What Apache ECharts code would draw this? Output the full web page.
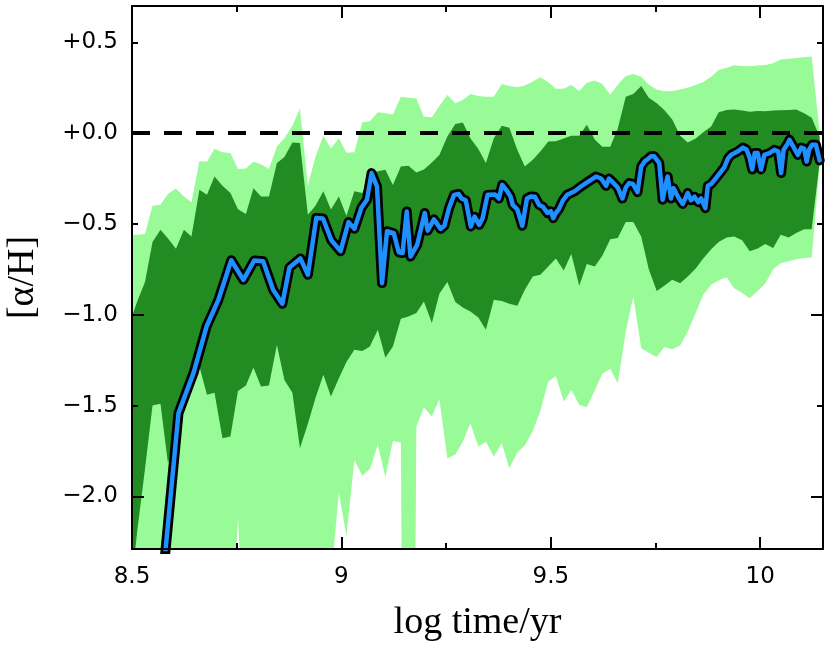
<!DOCTYPE html>
<html>
<head>
<meta charset="utf-8">
<script src="https://cdn.jsdelivr.net/npm/echarts@6/dist/echarts.min.js"></script>
<style>
  html, body { margin: 0; padding: 0; background: #fff; }
  #chart { width: 830px; height: 645px; }
</style>
</head>
<body>
<div id="chart"></div>
<script>
// log time of each band bin
const binTime = [
  8.494, 8.512, 8.531, 8.549, 8.568, 8.586, 8.605, 8.624, 8.642, 8.661,
  8.679, 8.697, 8.716, 8.735, 8.753, 8.772, 8.790, 8.808, 8.827, 8.846,
  8.864, 8.883, 8.901, 8.920, 8.938, 8.957, 8.975, 8.994, 9.012, 9.031,
  9.050, 9.068, 9.087, 9.105, 9.123, 9.142, 9.160, 9.179, 9.197, 9.216,
  9.234, 9.253, 9.272, 9.290, 9.308, 9.327, 9.345, 9.364, 9.383, 9.401,
  9.420, 9.438, 9.457, 9.475, 9.494, 9.512, 9.531, 9.549, 9.568, 9.586,
  9.605, 9.623, 9.642, 9.660, 9.679, 9.697, 9.716, 9.734, 9.753, 9.771,
  9.790, 9.809, 9.827, 9.846, 9.864, 9.883, 9.901, 9.920, 9.938, 9.957,
  9.975, 9.994, 10.012, 10.031, 10.049, 10.068, 10.086, 10.105, 10.123, 10.142
]
// outer band (light green), upper edge
const outerHigh = [
  -0.56, -0.56, -0.555, -0.40, -0.395, -0.334, -0.305, -0.349, -0.38, -0.153,
  -0.158, -0.086, -0.105, -0.11, -0.198, -0.195, -0.158, -0.171, -0.198, -0.074,
  -0.028, 0.04, 0.135, -0.29, -0.13, -0.015, -0.085, -0.028, -0.108, -0.105,
  0.06, 0.065, 0.115, 0.11, 0.103, 0.2, 0.195, 0.19, 0.09, 0.088,
  0.15, 0.21, 0.165, 0.183, 0.216, 0.205, 0.2, 0.2, 0.27, 0.26,
  0.253, 0.262, 0.284, 0.308, 0.28, 0.245, 0.245, 0.265, 0.232, 0.277,
  0.29, 0.27, 0.211, 0.266, 0.314, 0.326, 0.31, 0.266, 0.24, 0.23,
  0.232, 0.24, 0.25, 0.265, 0.282, 0.31, 0.348, 0.36, 0.374, 0.37,
  0.368, 0.372, 0.375, 0.385, 0.405, 0.41, 0.414, 0.418, 0.422, 0.0
]
// inner band (dark green), upper edge
const innerHigh = [
  -1.05, -0.93, -0.82, -0.6, -0.532, -0.58, -0.637, -0.532, -0.569, -0.312,
  -0.34, -0.239, -0.29, -0.33, -0.419, -0.446, -0.303, -0.349, -0.349, -0.165,
  -0.132, -0.052, -0.055, -0.45, -0.4, -0.32, -0.42, -0.349, -0.455, -0.32,
  -0.33, -0.222, -0.21, -0.202, -0.285, -0.184, -0.18, -0.217, -0.2, -0.162,
  -0.12, -0.018, 0.05, 0.058, -0.028, -0.088, -0.165, -0.028, 0.04, 0.03,
  -0.092, -0.184, -0.147, -0.101, -0.046, -0.045, -0.03, -0.015, -0.015, 0.046,
  -0.035, -0.075, -0.075, 0.025, 0.2, 0.215, 0.26, 0.195, 0.165, 0.128,
  0.075, -0.015, -0.052, -0.03, 0.005, 0.036, 0.115, 0.128, 0.13, 0.125,
  0.118, 0.122, 0.12, 0.124, 0.126, 0.128, 0.13, 0.11, 0.085, -0.02
]
// inner band, lower edge
const innerLow = [
  -2.6, -2.2, -1.85, -1.5, -1.49, -1.82, -1.6, -1.42, -1.35, -1.285,
  -1.44, -1.43, -1.68, -1.67, -1.42, -1.39, -1.29, -1.395, -1.39, -1.166,
  -1.36, -1.43, -1.735, -1.6, -1.46, -1.33, -1.45, -1.35, -1.26, -1.193,
  -1.2, -1.175, -1.083, -1.237, -1.175, -1.022, -1.01, -0.99, -0.927, -1.046,
  -0.885, -0.82, -0.93, -0.96, -0.982, -1.015, -1.083, -0.918, -0.925, -0.94,
  -0.95, -0.863, -0.79, -0.78, -0.735, -0.69, -0.757, -0.665, -0.84, -0.72,
  -0.735, -0.675, -0.585, -0.578, -0.49, -0.49, -0.57, -0.75, -0.87, -0.84,
  -0.808, -0.826, -0.79, -0.745, -0.69, -0.64, -0.6, -0.575, -0.569, -0.59,
  -0.65, -0.635, -0.61, -0.633, -0.56, -0.575, -0.55, -0.53, -0.53, -0.16
]
// outer band, lower edge
const outerLow = [
  -3, -3, -3, -3, -3, -3, -3, -3, -3, -3,
  -3, -3, -3, -3, -2.11, -3, -3, -3, -3, -3,
  -3, -3, -3, -3, -3, -3, -2.46, -1.98, -2.22, -1.8,
  -1.887, -1.85, -1.716, -1.894, -1.694, -1.704, -8, -1.615, -1.51, -1.56,
  -1.465, -1.79, -1.77, -1.698, -1.597, -1.725, -1.7, -1.78, -1.707, -1.845,
  -1.759, -1.72, -1.64, -1.53, -1.368, -1.337, -1.478, -1.414, -1.496, -1.509,
  -1.417, -1.325, -1.298, -1.377, -1.092, -0.9, -1.184, -1.21, -1.233, -1.178,
  -1.19, -1.17, -1.092, -0.991, -0.89, -0.835, -0.81, -0.793, -0.854, -0.88,
  -0.909, -0.87, -0.828, -0.75, -0.716, -0.705, -0.695, -0.688, -0.685, -0.18
]
// median track
const medianTime = [
  8.568, 8.611, 8.647, 8.678, 8.706, 8.737, 8.766, 8.792, 8.813, 8.837,
  8.859, 8.876, 8.902, 8.920, 8.940, 8.956, 8.976, 8.998, 9.017, 9.031,
  9.048, 9.061, 9.072, 9.085, 9.097, 9.109, 9.125, 9.137, 9.146, 9.156,
  9.165, 9.181, 9.199, 9.206, 9.221, 9.237, 9.246, 9.257, 9.269, 9.280,
  9.287, 9.297, 9.309, 9.318, 9.329, 9.337, 9.349, 9.367, 9.376, 9.384,
  9.396, 9.404, 9.409, 9.420, 9.432, 9.443, 9.452, 9.462, 9.472, 9.481,
  9.492, 9.500, 9.506, 9.512, 9.519, 9.529, 9.539, 9.548, 9.557, 9.572,
  9.584, 9.596, 9.608, 9.620, 9.632, 9.639, 9.648, 9.660, 9.671, 9.679,
  9.687, 9.696, 9.707, 9.716, 9.724, 9.731, 9.739, 9.747, 9.759, 9.767,
  9.773, 9.779, 9.787, 9.793, 9.799, 9.806, 9.815, 9.827, 9.835, 9.843,
  9.852, 9.859, 9.869, 9.875, 9.883, 9.891, 9.897, 9.907, 9.914, 9.923,
  9.931, 9.939, 9.947, 9.959, 9.967, 9.974, 9.981, 9.987, 9.994, 10.002,
  10.010, 10.022, 10.034, 10.043, 10.050, 10.056, 10.065, 10.070, 10.079, 10.090,
  10.098, 10.105, 10.111, 10.117, 10.124, 10.133, 10.142
]
const medianValue = [
  -2.59, -1.542, -1.32, -1.065, -0.92, -0.70, -0.808, -0.701, -0.705, -0.863,
  -0.94, -0.74, -0.69, -0.78, -0.468, -0.47, -0.59, -0.65, -0.49, -0.527,
  -0.41, -0.367, -0.22, -0.295, -0.826, -0.54, -0.551, -0.656, -0.66, -0.432,
  -0.68, -0.615, -0.44, -0.537, -0.475, -0.527, -0.51, -0.413, -0.34, -0.335,
  -0.36, -0.37, -0.514, -0.46, -0.505, -0.47, -0.34, -0.338, -0.36, -0.285,
  -0.32, -0.35, -0.395, -0.42, -0.51, -0.36, -0.349, -0.35, -0.395, -0.405,
  -0.44, -0.43, -0.468, -0.44, -0.42, -0.37, -0.34, -0.33, -0.32, -0.294,
  -0.275, -0.257, -0.239, -0.25, -0.29, -0.25, -0.27, -0.3, -0.36, -0.3,
  -0.275, -0.28, -0.325, -0.184, -0.156, -0.145, -0.128, -0.128, -0.165, -0.367,
  -0.3, -0.239, -0.36, -0.303, -0.33, -0.36, -0.39, -0.33, -0.37, -0.35,
  -0.38, -0.36, -0.413, -0.29, -0.28, -0.257, -0.24, -0.21, -0.19, -0.14,
  -0.119, -0.11, -0.1, -0.08, -0.09, -0.129, -0.2, -0.11, -0.11, -0.2,
  -0.12, -0.11, -0.092, -0.1, -0.22, -0.092, -0.06, -0.037, -0.074, -0.12,
  -0.08, -0.085, -0.156, -0.09, -0.064, -0.064, -0.15
]

const chart = echarts.init(document.getElementById('chart'))
const median = medianTime.map((t, i) => [t, medianValue[i]])

const black = { color: '#000', width: 2 }
const tickFont = { fontFamily: 'DejaVu Sans', fontSize: 23, color: '#000' }
const nameFont = { fontFamily: 'Liberation Serif', fontSize: 38, color: '#000' }

function signed(v) {
  return (v < 0 ? '\u2212' : '+') + Math.abs(v).toFixed(1)
}

function xAxisOf(position, interval, tickLen, withLine, withLabel) {
  const axis = {
    type: 'value', position: position, min: 8.5, max: 10.15, interval: interval, z: 10,
    axisLine: { show: withLine, onZero: false, lineStyle: black },
    axisTick: { inside: true, length: tickLen, lineStyle: black },
    axisLabel: { show: false },
    splitLine: { show: false }
  }
  if (withLabel) {
    axis.axisLabel = Object.assign({ margin: 17, showMaxLabel: false, formatter: v => String(v) }, tickFont)
    axis.name = 'log time/yr'
    axis.nameLocation = 'middle'
    axis.nameGap = 55
    axis.nameTextStyle = nameFont
  }
  return axis
}

function yAxisOf(position, splitNumber, tickLen, withLine, withLabel) {
  const axis = {
    type: 'value', position: position, min: -2.29, max: 0.7, splitNumber: splitNumber, z: 10,
    axisLine: { show: withLine, onZero: false, lineStyle: black },
    axisTick: { inside: true, length: tickLen, lineStyle: black },
    axisLabel: { show: false },
    splitLine: { show: false }
  }
  if (withLabel) {
    axis.axisLabel = Object.assign({ margin: 14, showMinLabel: false, showMaxLabel: false, formatter: signed }, tickFont)
    axis.name = '[α/H]'
    axis.nameLocation = 'middle'
    axis.nameGap = 90
    axis.nameTextStyle = nameFont
  }
  return axis
}

// one filled polygon between two band edges, placed through the axes
function bandSeries(name, upper, lower, color) {
  return {
    type: 'custom', name: name, silent: true, clip: true, z: 2,
    data: [[9, 0]],
    renderItem: function (params, api) {
      const pts = []
      for (let i = 0; i < binTime.length; i++) pts.push(api.coord([binTime[i], upper[i]]))
      for (let i = binTime.length - 1; i >= 0; i--) pts.push(api.coord([binTime[i], lower[i]]))
      return { type: 'polygon', shape: { points: pts }, style: { fill: color } }
    }
  }
}

const option = {
  animation: false,
  backgroundColor: '#fff',
  grid: { left: 132, right: 7, top: 6, bottom: 96, containLabel: false, outerBoundsMode: 'none' },
  xAxis: [
    xAxisOf('bottom', 0.5, 12, true, true),
    xAxisOf('bottom', 0.25, 6, false, false),
    xAxisOf('top', 0.5, 12, true, false),
    xAxisOf('top', 0.25, 6, false, false)
  ],
  yAxis: [
    yAxisOf('left', 5, 6, true, true),   // labels every 0.5
    yAxisOf('left', 3, 12, false, false), // long ticks on whole numbers
    yAxisOf('right', 5, 6, true, false),
    yAxisOf('right', 3, 12, false, false)
  ],
  series: [
    bandSeries('outer', outerHigh, outerLow, '#98fb98'),
    bandSeries('inner', innerHigh, innerLow, '#228b22'),
    {
      type: 'line', name: 'median edge', data: median, symbol: 'none', silent: true, z: 6,
      lineStyle: { color: '#000', width: 10, join: 'round', cap: 'round' },
      markLine: {
        silent: true, symbol: 'none', label: { show: false },
        lineStyle: { color: '#000', width: 4, type: [18, 14] },
        data: [{ yAxis: 0 }]
      }
    },
    {
      type: 'line', name: 'median', data: median, symbol: 'none', silent: true, z: 7,
      lineStyle: { color: '#1e90ff', width: 4.5, join: 'round', cap: 'round' }
    }
  ]
}
chart.setOption(option)
</script>
</body>
</html>
